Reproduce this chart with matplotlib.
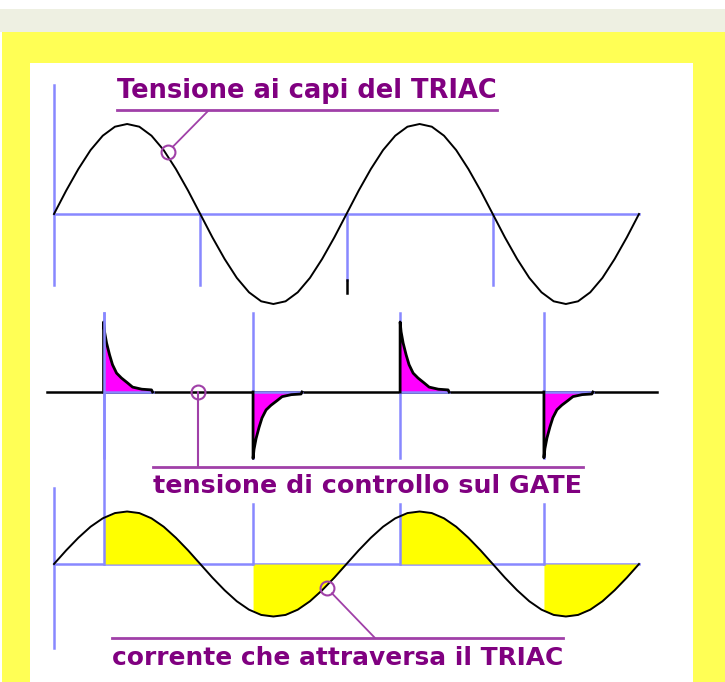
import numpy as np
import matplotlib
matplotlib.use('Agg')
import matplotlib.pyplot as plt
from matplotlib.patches import Rectangle

# waveform samples, every 15 degrees, two full cycles
angle = list(range(0, 721, 15))
v_triac = [0.0, 0.26, 0.5, 0.71, 0.87, 0.97, 1.0, 0.97, 0.87, 0.71, 0.5, 0.26,
           0.0, -0.26, -0.5, -0.71, -0.87, -0.97, -1.0, -0.97, -0.87, -0.71, -0.5, -0.26,
           0.0, 0.26, 0.5, 0.71, 0.87, 0.97, 1.0, 0.97, 0.87, 0.71, 0.5, 0.26,
           0.0, -0.26, -0.5, -0.71, -0.87, -0.97, -1.0, -0.97, -0.87, -0.71, -0.5, -0.26,
           0.0]
i_triac = [0.0, 0.26, 0.5, 0.71, 0.87, 0.97, 1.0, 0.97, 0.87, 0.71, 0.5, 0.26,
           0.0, -0.26, -0.5, -0.71, -0.87, -0.97, -1.0, -0.97, -0.87, -0.71, -0.5, -0.26,
           0.0, 0.26, 0.5, 0.71, 0.87, 0.97, 1.0, 0.97, 0.87, 0.71, 0.5, 0.26,
           0.0, -0.26, -0.5, -0.71, -0.87, -0.97, -1.0, -0.97, -0.87, -0.71, -0.5, -0.26,
           0.0]
zero_cross = [180, 360, 540]
fire_angle = [61, 245, 426, 603]
fire_end = [180, 360, 540, 720]
gate_peak = [1.0, -0.95, 1.0, -0.94]
# gate pulse decay (degrees after firing, fraction of peak)
gate_dt = [0, 1.2, 3.7, 7.4, 11, 16, 22, 29.5, 35.7, 47, 59, 60.3]
gate_shape = [1.0, 0.86, 0.70, 0.53, 0.39, 0.27, 0.20, 0.13, 0.07, 0.04, 0.03, 0.0]

W, H = 725, 682
BLUE = '#8888ff'
PURPLE = '#800080'
LEAD = '#a040a8'

fig = plt.figure(figsize=(W / 100, H / 100), dpi=100)
fig.patch.set_facecolor('white')

bg = fig.add_axes([0, 0, 1, 1], zorder=0)
bg.set_xlim(0, W)
bg.set_ylim(H, 0)
bg.axis('off')
bg.add_patch(Rectangle((0, 9), W, 23, color='#eef0e2', lw=0))
bg.add_patch(Rectangle((2, 32), W, H, color='#ffff55', lw=0))
bg.add_patch(Rectangle((30, 63), 663, H, color='white', lw=0))


def panel(ytop, ybot, x0=54, x1=639):
    ax = fig.add_axes([x0 / W, 1 - ybot / H, (x1 - x0) / W, (ybot - ytop) / H], zorder=1)
    ax.set_xlim(0, 720)
    ax.set_ylim(-1, 1)
    ax.axis('off')
    return ax


def label(x0, x1, y_base, y_line, s):
    t = bg.text(x0, y_base, s, fontsize=20, fontweight='bold', color=PURPLE,
                va='baseline', ha='left', family='DejaVu Sans')
    fig.canvas.draw()
    w = t.get_window_extent(fig.canvas.get_renderer()).width
    t.set_fontsize(20 * (x1 - x0) / w)
    bg.plot([x0, x1], [y_line, y_line], color=LEAD, lw=2)


def marker(ax, x, y, tx, ty):
    ax.plot(x, y, 'o', ms=10, mfc='none', mec=LEAD, mew=1.5, clip_on=False, zorder=5)
    ax.annotate('', xy=(x, y), xycoords='data', xytext=(tx, ty), textcoords=bg.transData,
                arrowprops=dict(arrowstyle='-', color=LEAD, lw=1.3, shrinkA=0, shrinkB=5))


# top: voltage across the TRIAC
ax1 = panel(124, 304)
ax1.plot([0, 720], [0, 0], color=BLUE, lw=1.8, clip_on=False)
ax1.plot([0, 0], [1.433, -0.789], color=BLUE, lw=1.8, clip_on=False)
for i, z in enumerate(zero_cross):
    if i == 1:
        ax1.plot([z, z], [0, -0.733], color=BLUE, lw=1.8, clip_on=False)
        ax1.plot([z, z], [-0.733, -0.878], color='black', lw=1.8, clip_on=False)
    else:
        ax1.plot([z, z], [0, -0.789], color=BLUE, lw=1.8, clip_on=False)
ax1.plot(angle, v_triac, color='black', lw=1.4, clip_on=False, zorder=3)
marker(ax1, 140, 0.69, 208, 111)
label(117, 497, 98, 110, 'Tensione ai capi del TRIAC')

# middle: gate control pulses
ax2 = panel(322, 462)
for f in fire_angle:
    ax2.plot([f, f], [1.129, -0.943], color=BLUE, lw=1.8, clip_on=False)
ax2.plot([-8.6, 742], [0, 0], color='black', lw=1.8, clip_on=False)
for f, p in zip(fire_angle, gate_peak):
    gx = np.array(gate_dt) + f
    gy = np.array(gate_shape) * p
    ax2.fill_between(gx, gy, 0, color='#ff00ff', lw=0, zorder=3)
    ax2.plot([gx[0], gx[-1]], [0, 0], color=BLUE, lw=1.8, zorder=3)
    ax2.plot(np.r_[f, gx], np.r_[0, gy], color='black', lw=2, zorder=4, clip_on=False)
ax2.plot([177, 177], [0, -1.07], color=LEAD, lw=1.5, clip_on=False)
ax2.plot(177, 0, 'o', ms=10, mfc='none', mec=LEAD, mew=1.5, clip_on=False, zorder=5)
label(153, 583, 493, 467, 'tensione di controllo sul GATE')

# bottom: current through the TRIAC
ax3 = panel(511.5, 616.5)
ax3.plot([0, 720], [0, 0], color=BLUE, lw=1.8, clip_on=False)
ax3.plot([0, 0], [1.45, -1.6], color=BLUE, lw=1.8, clip_on=False)
line_top = [4.78, 1.14, 1.14, 1.14]
for f, e, top in zip(fire_angle, fire_end, line_top):
    a = np.array(angle)
    sel = (a > f) & (a <= e)
    fx = np.r_[f, a[sel]]
    fy = np.r_[np.interp(f, angle, i_triac), np.array(i_triac)[sel]]
    ax3.fill_between(fx, fy, 0, color='#ffff00', lw=0, zorder=2)
    ax3.plot([f, f], [top, 0], color=BLUE, lw=1.8, clip_on=False, zorder=2.5)
ax3.plot(angle, i_triac, color='black', lw=1.4, clip_on=False, zorder=3)
marker(ax3, 336, -0.46, 375, 638)
label(112, 563, 665, 638, 'corrente che attraversa il TRIAC')

fig.savefig('out.png', dpi=100)
